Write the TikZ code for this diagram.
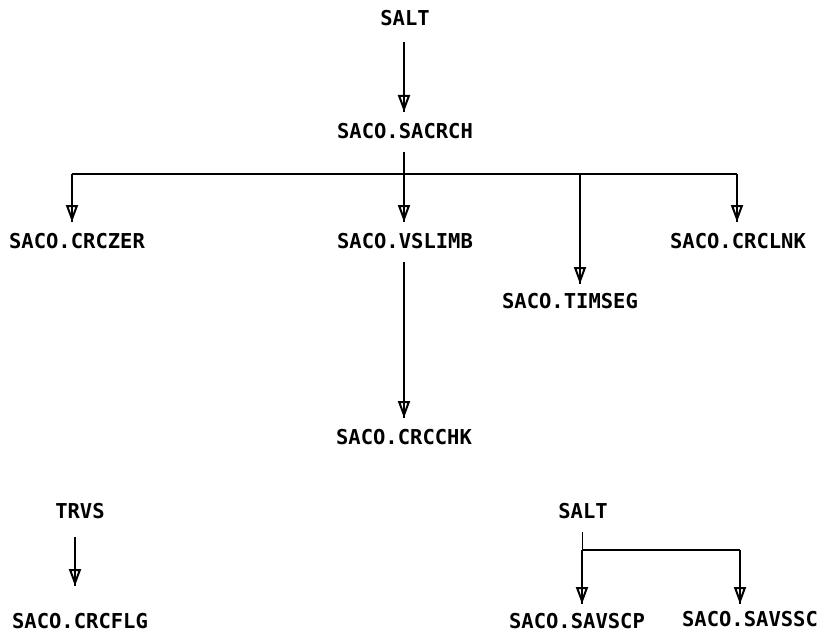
\documentclass[tikz,border=0pt]{standalone}
\usepackage{fontspec}
\setmonofont{DejaVu Sans Mono}
\usetikzlibrary{arrows.meta}
\tikzset{
  lbl/.style={font=\ttfamily\bfseries\fontsize{20.5}{20.5}\selectfont, inner sep=0pt, anchor=center},
  wire/.style={line width=1.7pt, line cap=butt},
  arr/.style={wire, -{Triangle[open, length=17pt, width=12pt, line width=2pt]}, postaction={draw, arrows=-}},
}
\begin{document}
\begin{tikzpicture}[x=1pt,y=-1pt]
\useasboundingbox (0,0) rectangle (824,639);
% nodes
\node[lbl] (salt) at (405,18) {SALT};
\node[lbl] (sacrch) at (405,131) {SACO.SACRCH};
\node[lbl] (crczer) at (77,241) {SACO.CRCZER};
\node[lbl] (vslimb) at (405,241) {SACO.VSLIMB};
\node[lbl] (timseg) at (570,301) {SACO.TIMSEG};
\node[lbl] (crclnk) at (738,241) {SACO.CRCLNK};
\node[lbl] (crcchk) at (404,437) {SACO.CRCCHK};
\node[lbl] (trvs) at (80,511) {TRVS};
\node[lbl] (crcflg) at (80,621) {SACO.CRCFLG};
\node[lbl] (salt2) at (583,511) {SALT};
\node[lbl] (savscp) at (577,621) {SACO.SAVSCP};
\node[lbl] (savssc) at (750,619) {SACO.SAVSSC};
% coordinates
\coordinate (b0) at (404,152);
\coordinate (bus) at (404,174);
\coordinate (busL) at (72,174);
\coordinate (busR) at (737,174);
\coordinate (busT) at (580,174);
\coordinate (c0) at (404,262);
\coordinate (t0) at (75,537);
\coordinate (s0) at (582,532);
\coordinate (sb) at (582,550);
\coordinate (sbR) at (740,550);
% connectors
\draw[arr] (404,42) -- (404,112);
\draw[wire] (b0) -- (bus);
\draw[wire] (busL) -- (busR);
\draw[arr] (busL) -- (72,222);
\draw[arr] (bus) -- (404,222);
\draw[arr] (busT) -- (580,284);
\draw[arr] (busR) -- (737,222);
\draw[arr] (c0) -- (404,418);
\draw[arr] (t0) -- (75,586);
\draw[wire, line width=1pt] (s0) -- (sb);
\draw[wire] (sb) -- (sbR);
\draw[arr] (sb) -- (582,604);
\draw[arr] (sbR) -- (740,604);
\end{tikzpicture}
\end{document}
